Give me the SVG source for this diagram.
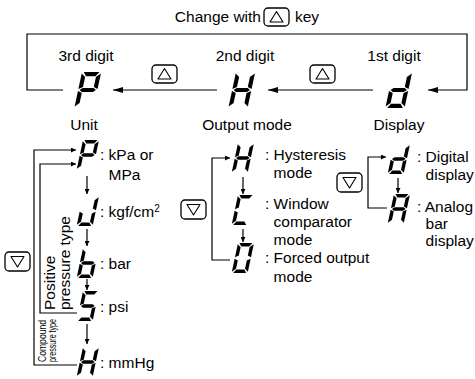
<svg xmlns="http://www.w3.org/2000/svg" xmlns:xlink="http://www.w3.org/1999/xlink" width="475" height="379" viewBox="0 0 475 379">
<style>
text{font-family:"Liberation Sans",Arial,sans-serif;font-size:15.5px;fill:#000}
.ln{fill:none;stroke:#000;stroke-width:1.2}
.key{fill:#fff;stroke:#000;stroke-width:1.3}
.tri{fill:none;stroke:#000;stroke-width:1.1;stroke-linejoin:round}
.seg{fill:#000}
.tiny{font-size:10.5px}
</style>
<defs>
<marker id="ah" viewBox="0 0 10 6" refX="10" refY="3" markerWidth="10" markerHeight="6" markerUnits="userSpaceOnUse" orient="auto">
<path d="M0,0L10,3L0,6z" fill="#000"/>
</marker>
<marker id="as" viewBox="0 0 6 6" refX="6" refY="3" markerWidth="6" markerHeight="5" markerUnits="userSpaceOnUse" orient="auto">
<path d="M0,0L6,3L0,6z" fill="#000"/>
</marker>
<polygon id="sa" class="seg" points="1.5,0 14.5,0 12,3.5 4,3.5"/>
<polygon id="sb" class="seg" points="16,1.2 16,14.2 12.5,12.6 12.5,4.2"/>
<polygon id="sc" class="seg" points="16,15.8 16,28.8 12.5,25.8 12.5,17.4"/>
<polygon id="sd" class="seg" points="1.5,30 4,26.5 12,26.5 14.5,30"/>
<polygon id="se" class="seg" points="0,15.8 3.5,17.4 3.5,25.8 0,28.8"/>
<polygon id="sf" class="seg" points="0,1.2 3.5,4.2 3.5,12.6 0,14.2"/>
<polygon id="sg" class="seg" points="1.2,15 3.4,13.3 12.6,13.3 14.8,15 12.6,16.7 3.4,16.7"/>
<g id="dP"><use xlink:href="#sa"/><use xlink:href="#sb"/><use xlink:href="#sf"/><use xlink:href="#sg"/><use xlink:href="#se"/></g>
<g id="dH"><use xlink:href="#sb"/><use xlink:href="#sc"/><use xlink:href="#se"/><use xlink:href="#sf"/><use xlink:href="#sg"/></g>
<g id="dd"><use xlink:href="#sb"/><use xlink:href="#sc"/><use xlink:href="#sd"/><use xlink:href="#se"/><use xlink:href="#sg"/></g>
<g id="du"><use xlink:href="#sb"/><use xlink:href="#sc"/><use xlink:href="#sd"/><use xlink:href="#se"/></g>
<g id="db"><use xlink:href="#sf"/><use xlink:href="#se"/><use xlink:href="#sd"/><use xlink:href="#sc"/><use xlink:href="#sg"/></g>
<g id="d5"><use xlink:href="#sa"/><use xlink:href="#sf"/><use xlink:href="#sg"/><use xlink:href="#sc"/><use xlink:href="#sd"/></g>
<g id="dC"><use xlink:href="#sa"/><use xlink:href="#sf"/><use xlink:href="#se"/><use xlink:href="#sd"/></g>
<g id="d0"><use xlink:href="#sa"/><use xlink:href="#sb"/><use xlink:href="#sc"/><use xlink:href="#sd"/><use xlink:href="#se"/><use xlink:href="#sf"/></g>
<g id="dA"><use xlink:href="#sa"/><use xlink:href="#sb"/><use xlink:href="#sc"/><use xlink:href="#se"/><use xlink:href="#sf"/><use xlink:href="#sg"/></g>
<g id="kUp"><rect class="key" x="0" y="0" width="25" height="18" rx="4"/><path class="tri" d="M6,14H19L12.5,3.5z"/></g>
<g id="kDn"><rect class="key" x="0" y="0" width="25" height="19" rx="4"/><path class="tri" d="M6,4.5H19L12.5,15z"/></g>
</defs>

<g id="title">
<text x="261" y="22" text-anchor="end">Change with</text>
<use xlink:href="#kUp" x="264" y="8"/>
<text x="295" y="22">key</text>
</g>

<g id="connectors">
<path class="ln" d="M63,90H27V34H467V90H428" marker-end="url(#ah)"/>
<path class="ln" d="M217,90H113" marker-end="url(#ah)"/>
<path class="ln" d="M373,90H268" marker-end="url(#ah)"/>
<path class="ln" d="M77,365H34V150H76" marker-end="url(#as)"/>
<path class="ln" d="M77,313H40V164H76" marker-end="url(#as)"/>
<path class="ln" d="M87,176V194" marker-end="url(#as)"/>
<path class="ln" d="M87,229V246" marker-end="url(#as)"/>
<path class="ln" d="M87,279V290" marker-end="url(#as)"/>
<path class="ln" d="M87,324V344" marker-end="url(#as)"/>
<path class="ln" d="M230,260H212V158H230" marker-end="url(#as)"/>
<path class="ln" d="M243,177V194" marker-end="url(#as)"/>
<path class="ln" d="M243,229V242" marker-end="url(#as)"/>
<path class="ln" d="M387,208H368V157H386" marker-end="url(#as)"/>
<path class="ln" d="M398,178V193" marker-end="url(#as)"/>
</g>

<g id="digit3">
<text x="86" y="61" text-anchor="middle">3rd digit</text>
<g transform="translate(82,72) scale(1.2) skewX(-12)"><use xlink:href="#dP"/></g>
<text x="84" y="130" text-anchor="middle">Unit</text>
</g>
<g id="key-up-1"><use xlink:href="#kUp" x="152" y="65"/></g>
<g id="digit2">
<text x="245" y="61" text-anchor="middle">2nd digit</text>
<g transform="translate(236,72) scale(1.2) skewX(-12)"><use xlink:href="#dH"/></g>
<text x="247" y="130" text-anchor="middle">Output mode</text>
</g>
<g id="key-up-2"><use xlink:href="#kUp" x="310" y="65"/></g>
<g id="digit1">
<text x="394" y="61" text-anchor="middle">1st digit</text>
<g transform="translate(393,72) scale(1.2) skewX(-12)"><use xlink:href="#dd"/></g>
<text x="399" y="130" text-anchor="middle">Display</text>
</g>

<g id="unit-key"><use xlink:href="#kDn" x="5" y="252"/></g>
<g id="unit-types">
<text transform="translate(55,310) rotate(-90)">Positive</text>
<text transform="translate(70,310) rotate(-90)">pressure type</text>
<text class="tiny" transform="translate(46,362) rotate(-90)" textLength="42" lengthAdjust="spacingAndGlyphs">Compound</text>
<text class="tiny" transform="translate(56,362) rotate(-90)" textLength="43" lengthAdjust="spacingAndGlyphs">pressure type</text>
</g>
<g id="unit-kPa">
<g transform="translate(83,140) skewX(-12)"><use xlink:href="#dP"/></g>
<text x="100" y="160">: kPa or<tspan x="108.6" y="180">MPa</tspan></text>
</g>
<g id="unit-kgf">
<g transform="translate(83,196) skewX(-12)"><use xlink:href="#du"/></g>
<text x="100" y="217">: kgf/cm<tspan style="font-size:10px" dy="-5">2</tspan></text>
</g>
<g id="unit-bar">
<g transform="translate(83,248) skewX(-12)"><use xlink:href="#db"/></g>
<text x="100" y="269">: bar</text>
</g>
<g id="unit-psi">
<g transform="translate(83,291) skewX(-12)"><use xlink:href="#d5"/></g>
<text x="100" y="312">: psi</text>
</g>
<g id="unit-mmHg">
<g transform="translate(83,347) skewX(-12)"><use xlink:href="#dH"/></g>
<text x="100" y="368">: mmHg</text>
</g>

<g id="output-key"><use xlink:href="#kDn" x="181" y="200"/></g>
<g id="out-hyst">
<g transform="translate(238,143) skewX(-12)"><use xlink:href="#dH"/></g>
<text x="265" y="160">: Hysteresis<tspan x="273.6" y="178">mode</tspan></text>
</g>
<g id="out-window">
<g transform="translate(238,195) skewX(-12)"><use xlink:href="#dC"/></g>
<text x="265" y="209">: Window<tspan x="273.6" y="227">comparator</tspan><tspan x="273.6" y="245">mode</tspan></text>
</g>
<g id="out-forced">
<g transform="translate(238,243) skewX(-12)"><use xlink:href="#d0"/></g>
<text x="265" y="263">: Forced output<tspan x="273.6" y="282">mode</tspan></text>
</g>

<g id="display-key"><use xlink:href="#kDn" x="337" y="173"/></g>
<g id="disp-digital">
<g transform="translate(394,144) skewX(-12)"><use xlink:href="#dd"/></g>
<text x="417" y="162">: Digital<tspan x="425.6" y="180">display</tspan></text>
</g>
<g id="disp-analog">
<g transform="translate(394,194) skewX(-12)"><use xlink:href="#dA"/></g>
<text x="417" y="212">: Analog<tspan x="425.6" y="229">bar</tspan><tspan x="425.6" y="246">display</tspan></text>
</g>
</svg>
